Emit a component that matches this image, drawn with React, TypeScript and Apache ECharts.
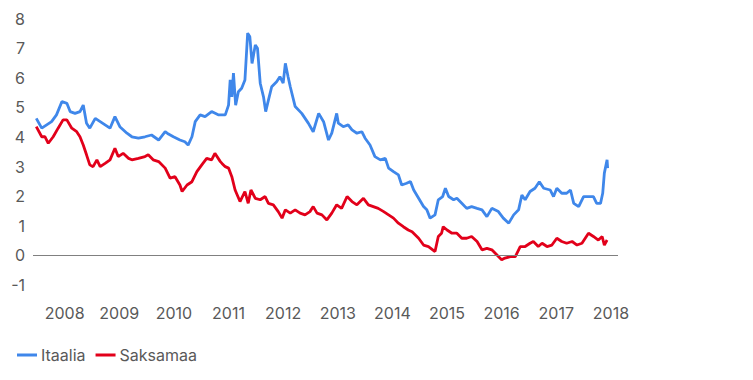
import React, { useEffect, useRef } from "react";
import * as echarts from "echarts";

// Italy 10y yield (decimal year, %)
const itYears = [
  2007.98, 2008.08, 2008.17, 2008.26, 2008.35, 2008.45, 2008.54, 2008.6, 2008.69, 2008.78, 2008.84, 2008.9, 2008.96,
  2009.06, 2009.15, 2009.24, 2009.33, 2009.42, 2009.51, 2009.64, 2009.73, 2009.85, 2009.97,
  2010.09, 2010.22, 2010.34, 2010.4, 2010.49, 2010.61, 2010.7, 2010.76, 2010.83, 2010.89, 2010.98,
  2011.07, 2011.19, 2011.31, 2011.44, 2011.5, 2011.53, 2011.56, 2011.59, 2011.63, 2011.68, 2011.74, 2011.8, 2011.85, 2011.89, 2011.93, 2011.99,
  2012.03, 2012.08, 2012.14, 2012.18, 2012.23, 2012.29, 2012.38, 2012.44, 2012.5, 2012.54, 2012.59, 2012.63, 2012.72, 2012.84, 2012.96,
  2013.05, 2013.15, 2013.24, 2013.33, 2013.39, 2013.48, 2013.51, 2013.6, 2013.69, 2013.76, 2013.85, 2013.94,
  2014.0, 2014.09, 2014.18, 2014.28, 2014.37, 2014.43, 2014.52, 2014.61, 2014.67, 2014.76, 2014.83, 2014.89, 2014.98,
  2015.07, 2015.13, 2015.19, 2015.28, 2015.34, 2015.42, 2015.47, 2015.53, 2015.62, 2015.68, 2015.77, 2015.86, 2015.95,
  2016.05, 2016.14, 2016.23, 2016.32, 2016.44, 2016.53, 2016.63, 2016.72, 2016.81, 2016.87, 2016.93,
  2017.02, 2017.11, 2017.19, 2017.27, 2017.39, 2017.45, 2017.51, 2017.6, 2017.69, 2017.76, 2017.82, 2017.91,
  2018.0, 2018.09, 2018.18, 2018.24, 2018.31, 2018.35, 2018.38, 2018.43, 2018.44,
];
const itValues = [
  4.63, 4.3, 4.41, 4.52, 4.75, 5.2, 5.14, 4.86, 4.8, 4.86, 5.08, 4.47, 4.3,
  4.63, 4.52, 4.41, 4.3, 4.69, 4.35, 4.13, 4.01, 3.96, 4.01,
  4.07, 3.9, 4.18, 4.1, 4.01, 3.9, 3.84, 3.73, 4.01, 4.52, 4.75,
  4.69, 4.86, 4.75, 4.75, 5.08, 5.93, 5.36, 6.16, 5.08, 5.53, 5.65, 5.93, 7.51, 7.39, 6.49, 7.11,
  7.0, 5.82, 5.36, 4.86, 5.25, 5.7, 5.87, 6.04, 5.82, 6.49, 6.04, 5.7, 5.03, 4.8, 4.47,
  4.18, 4.8, 4.52, 3.9, 4.13, 4.8, 4.47, 4.35, 4.41, 4.24, 4.13, 4.18,
  3.96, 3.73, 3.34, 3.23, 3.28, 2.95, 2.83, 2.72, 2.38, 2.44, 2.5, 2.21, 1.93,
  1.65, 1.54, 1.26, 1.37, 1.88, 1.99, 2.27, 1.99, 1.88, 1.93, 1.76, 1.59, 1.65,
  1.59, 1.54, 1.31, 1.59, 1.48, 1.26, 1.09, 1.37, 1.54, 2.04, 1.88,
  2.16, 2.27, 2.49, 2.27, 2.21, 1.99, 2.27, 2.1, 2.1, 2.21, 1.76, 1.65,
  1.99, 1.99, 1.99, 1.76, 1.76, 2.1, 2.78, 3.23, 2.95,
];

// Germany 10y yield (decimal year, %)
const deYears = [
  2007.98, 2008.08, 2008.14, 2008.2, 2008.29, 2008.38, 2008.47, 2008.54, 2008.63, 2008.72, 2008.78, 2008.84, 2008.9, 2008.96,
  2009.02, 2009.09, 2009.15, 2009.24, 2009.33, 2009.42, 2009.48, 2009.57, 2009.67, 2009.73, 2009.85, 2009.97,
  2010.03, 2010.12, 2010.22, 2010.34, 2010.43, 2010.52, 2010.61, 2010.65, 2010.74, 2010.83, 2010.92,
  2011.01, 2011.1, 2011.19, 2011.25, 2011.35, 2011.38, 2011.44, 2011.5, 2011.56, 2011.62, 2011.71, 2011.8, 2011.86, 2011.91, 2011.99,
  2012.08, 2012.17, 2012.23, 2012.32, 2012.41, 2012.48, 2012.54, 2012.63, 2012.72, 2012.81, 2012.9, 2012.99,
  2013.05, 2013.12, 2013.21, 2013.3, 2013.39, 2013.48, 2013.57, 2013.67, 2013.76, 2013.85, 2013.97,
  2014.06, 2014.15, 2014.24, 2014.34, 2014.43, 2014.52, 2014.61, 2014.7, 2014.79, 2014.86, 2014.98,
  2015.07, 2015.16, 2015.28, 2015.34, 2015.4, 2015.43, 2015.5, 2015.59, 2015.68, 2015.77, 2015.86, 2015.95,
  2016.05, 2016.14, 2016.23, 2016.32, 2016.41, 2016.5, 2016.56, 2016.66, 2016.75, 2016.84, 2016.93,
  2017.02, 2017.08, 2017.17, 2017.24, 2017.33, 2017.42, 2017.51, 2017.6, 2017.69, 2017.79, 2017.88, 2017.97,
  2018.09, 2018.18, 2018.27, 2018.34, 2018.38, 2018.43,
];
const deValues = [
  4.35, 4.01, 4.01, 3.79, 4.01, 4.3, 4.58, 4.58, 4.3, 4.18, 4.01, 3.73, 3.4, 3.06,
  3.0, 3.23, 3.0, 3.11, 3.23, 3.62, 3.34, 3.45, 3.28, 3.23, 3.28, 3.34,
  3.4, 3.23, 3.17, 2.95, 2.61, 2.66, 2.38, 2.16, 2.38, 2.49, 2.83,
  3.06, 3.28, 3.23, 3.45, 3.17, 3.11, 3.0, 2.95, 2.66, 2.21, 1.82, 2.16, 1.76, 2.21, 1.93,
  1.88, 1.99, 1.76, 1.71, 1.48, 1.26, 1.54, 1.43, 1.54, 1.43, 1.37, 1.48,
  1.65, 1.43, 1.37, 1.2, 1.43, 1.71, 1.59, 1.99, 1.82, 1.71, 1.93,
  1.71, 1.65, 1.59, 1.48, 1.37, 1.26, 1.09, 0.97, 0.86, 0.8, 0.58,
  0.35, 0.3, 0.13, 0.64, 0.75, 0.97, 0.86, 0.75, 0.75, 0.58, 0.58, 0.64,
  0.47, 0.19, 0.24, 0.19, 0.02, -0.15, -0.09, -0.04, -0.04, 0.3, 0.3,
  0.41, 0.47, 0.3, 0.41, 0.3, 0.35, 0.58, 0.47, 0.41, 0.47, 0.35, 0.41,
  0.75, 0.64, 0.52, 0.64, 0.35, 0.52,
];

const yearLabels = [2008, 2009, 2010, 2011, 2012, 2013, 2014, 2015, 2016, 2017, 2018];
const seriesNames = ["Itaalia", "Saksamaa"];

const FONT = "Inter, 'Noto Sans', sans-serif";

export default function App() {
  const ref = useRef<HTMLDivElement>(null);
  useEffect(() => {
    if (!ref.current) return;
    const chart = echarts.init(ref.current, null, { renderer: "svg" });
    const toPairs = (xs: number[], ys: number[]) => xs.map((x, i) => [x, ys[i]]);
    chart.setOption({
      animation: false,
      textStyle: { fontFamily: FONT },
      grid: { left: 33, right: 135, top: 18.7, bottom: 95, containLabel: false, outerBoundsMode: "none" },
      legend: {
        data: seriesNames,
        left: 12,
        top: 342,
        icon: "rect",
        itemWidth: 20,
        itemHeight: 3,
        itemGap: 10,
        textStyle: { color: "#595959", fontSize: 16, fontFamily: FONT, padding: [0, 0, 0, -1] },
      },
      xAxis: {
        type: "value",
        min: 2007.92,
        max: 2018.63,
        axisLine: { show: false },
        axisTick: { show: false },
        splitLine: { show: false },
        axisLabel: {
          customValues: yearLabels.map((y) => y + 0.5),
          formatter: (v: number) => String(Math.floor(v)),
          color: "#595959",
          fontSize: 16,
          fontFamily: FONT,
          margin: 20,
        },
      },
      yAxis: {
        type: "value",
        min: -1,
        max: 8,
        interval: 1,
        axisLine: { show: false },
        axisTick: { show: false },
        splitLine: { show: false },
        axisLabel: { color: "#595959", fontSize: 16, fontFamily: FONT, margin: 8 },
      },
      series: [
        {
          name: "zero",
          type: "line",
          data: [],
          z: 1,
          silent: true,
          markLine: {
            silent: true,
            symbol: ["none", "none"],
            label: { show: false },
            lineStyle: { color: "#808080", width: 1, type: "solid" },
            data: [{ yAxis: 0 }],
          },
        },
        {
          name: seriesNames[0],
          type: "line",
          data: toPairs(itYears, itValues),
          showSymbol: false,
          z: 3,
          color: "#3F87EA",
          lineStyle: { width: 2.8, color: "#3F87EA" },
        },
        {
          name: seriesNames[1],
          type: "line",
          data: toPairs(deYears, deValues),
          showSymbol: false,
          z: 4,
          color: "#E2001A",
          lineStyle: { width: 2.8, color: "#E2001A" },
        },
      ],
    });
    return () => chart.dispose();
  }, []);
  return <div ref={ref} style={{ width: 753, height: 380, position: "absolute", left: 0, top: 0 }} />;
}
